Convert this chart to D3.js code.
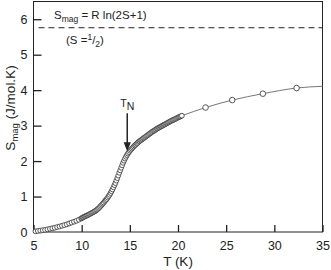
<!DOCTYPE html>
<html><head><meta charset="utf-8">
<script src="https://cdn.jsdelivr.net/npm/d3@7"></script>
<style>body{margin:0;background:#fff}svg{display:block}text{font-family:"Liberation Sans",Arial,sans-serif;fill:#222}</style>
</head><body>
<svg id="c" width="331" height="270"></svg>
<script>
// Dense measured points (open circles)
const denseT = [5.2,5.45,5.7,5.95,6.2,6.45,6.7,6.95,7.2,7.45,7.7,7.95,8.2,8.45,8.7,8.95,9.2,9.45,9.7,9.95,
  10.0,10.1,10.2,10.3,10.4,10.5,10.6,10.7,10.8,10.9,11.0,11.1,11.2,11.3,11.4,11.5,11.6,11.7,11.8,11.9,
  12.0,12.1,12.2,12.3,12.4,12.5,12.6,12.7,12.8,12.9,13.0,13.1,13.2,13.3,13.4,13.5,13.6,13.7,13.8,13.9,
  14.0,14.1,14.2,14.3,14.4,14.5,14.6,14.7,14.8,14.9,15.0,15.1,15.2,15.3,15.4,15.5,15.6,15.7,15.8,15.9,16.0,
  16.1,16.2,16.3,16.4,16.5,16.6,16.7,16.8,16.9,17.0,17.1,17.2,17.3,17.4,17.5,17.6,17.7,17.8,17.9,18.0,
  18.1,18.2,18.3,18.4,18.5,18.6,18.7,18.8,18.9,19.0,19.1,19.2,19.3,19.4,19.5,19.6,19.7,19.8,19.9,20.0,
  20.1,20.2,20.3,20.4];
const denseS = [0.02,0.03,0.04,0.05,0.06,0.075,0.09,0.105,0.12,0.14,0.155,0.175,0.195,0.215,0.24,0.265,0.29,0.315,0.345,0.38,
  0.39,0.405,0.42,0.435,0.45,0.46,0.47,0.485,0.50,0.515,0.53,0.545,0.56,0.575,0.59,0.61,0.63,0.655,0.68,0.71,
  0.74,0.77,0.80,0.83,0.87,0.90,0.93,0.97,1.01,1.05,1.10,1.15,1.20,1.26,1.32,1.38,1.45,1.52,1.59,1.67,
  1.74,1.81,1.88,1.95,2.01,2.07,2.12,2.17,2.21,2.25,2.29,2.32,2.35,2.38,2.41,2.44,2.46,2.49,2.51,2.54,2.56,
  2.58,2.60,2.62,2.64,2.66,2.68,2.70,2.72,2.74,2.76,2.78,2.80,2.82,2.84,2.855,2.87,2.89,2.91,2.925,2.94,
  2.955,2.97,2.985,3.00,3.015,3.03,3.045,3.06,3.075,3.09,3.105,3.12,3.135,3.15,3.16,3.17,3.185,3.20,3.215,3.23,
  3.24,3.25,3.265,3.28];
// Sparse points (open circles)
const sparseT = [22.86,25.63,28.81,32.31];
const sparseS = [3.51,3.72,3.90,4.06];
// Fit line
const lineT = [20.4,22.86,25.63,28.81,32.31,35];
const lineS = [3.28,3.51,3.72,3.90,4.06,4.11];
// Axes
const xTicks = [5,10,15,20,25,30,35];
const yTicks = [0,1,2,3,4,5,6];
// Annotations (data units)
const saturationS = 5.76;
const tnT = 14.73, tnTopS = 3.35, tnTipS = 2.28;

const svg = d3.select("#c");
const L=33.5, R=322.5, T=1.5, B=232;
const x = d3.scaleLinear().domain([5,35]).range([L,R]);
const y = d3.scaleLinear().domain([0,6.5]).range([B,T]);
const ink = "#222";

// frame
svg.append("rect").attr("x",L).attr("y",T).attr("width",R-L).attr("height",B-T)
  .attr("fill","none").attr("stroke",ink).attr("stroke-width",1);

// x axis ticks (inward)
const xa = d3.axisBottom(x).tickValues(xTicks).tickSize(-7).tickPadding(11).tickFormat(d3.format("d"));
const gx = svg.append("g").attr("transform",`translate(0,${B})`).call(xa);
gx.select(".domain").remove();
gx.selectAll("line").attr("stroke",ink).attr("stroke-width",1.3);
gx.selectAll("text").attr("font-size","12.5px").attr("fill",ink).attr("dy","0.71em").attr("y",9);

const ya = d3.axisLeft(y).tickValues(yTicks).tickSize(-8).tickPadding(13).tickFormat(d3.format("d"));
const gy = svg.append("g").attr("transform",`translate(${L},0)`).call(ya);
gy.select(".domain").remove();
gy.selectAll("line").attr("stroke",ink).attr("stroke-width",1.3);
gy.selectAll("text").attr("font-size","12.5px").attr("fill",ink).attr("x",-6);

// axis titles
svg.append("text").attr("x",(L+R)/2).attr("y",266).attr("text-anchor","middle").attr("font-size","13.5px").text("T (K)");
const yl = svg.append("text").attr("transform","translate(15,108) rotate(-90)").attr("text-anchor","middle").attr("font-size","13.5px");
yl.append("tspan").text("S");
yl.append("tspan").attr("font-size","9.5px").attr("dy","3").text("mag");
yl.append("tspan").attr("dy","-3").text(" (J/mol.K)");

// saturation line
svg.append("line").attr("x1",L+5).attr("x2",R).attr("y1",y(saturationS)).attr("y2",y(saturationS))
  .attr("stroke",ink).attr("stroke-width",1).attr("stroke-dasharray","6,4");
const t1 = svg.append("text").attr("x",54).attr("y",19).attr("font-size","11.5px");
t1.append("tspan").text("S");
t1.append("tspan").attr("font-size","8.5px").attr("dy","3").text("mag");
t1.append("tspan").attr("dy","-3").text(" = R ln(2S+1)");
const t2 = svg.append("text").attr("x",66).attr("y",44).attr("font-size","11.5px");
t2.append("tspan").text("(S =");
t2.append("tspan").attr("font-size","8.5px").attr("dy","-4").text("1");
t2.append("tspan").attr("dy","4").text("/");
t2.append("tspan").attr("font-size","8.5px").attr("dy","3").text("2");
t2.append("tspan").attr("dy","-3").text(")");

// fit line
const lineData = lineT.map((t,i)=>[t,lineS[i]]);
svg.append("path").datum(lineData).attr("fill","none").attr("stroke","#777").attr("stroke-width",1)
  .attr("d",d3.line().x(d=>x(d[0])).y(d=>y(d[1])).curve(d3.curveMonotoneX));

// circles
const dense = denseT.map((t,i)=>[t,denseS[i]]);
svg.append("g").selectAll("circle").data(dense).join("circle")
  .attr("cx",d=>x(d[0])).attr("cy",d=>y(d[1])).attr("r",2.4)
  .attr("fill","#fff").attr("stroke","#333").attr("stroke-width",0.8);
const sparse = sparseT.map((t,i)=>[t,sparseS[i]]);
svg.append("g").selectAll("circle").data(sparse).join("circle")
  .attr("cx",d=>x(d[0])).attr("cy",d=>y(d[1])).attr("r",2.8)
  .attr("fill","#fff").attr("stroke","#444").attr("stroke-width",0.9);

// T_N arrow
const ax = x(tnT);
svg.append("line").attr("x1",ax).attr("x2",ax).attr("y1",y(tnTopS)).attr("y2",y(tnTipS)-6)
  .attr("stroke",ink).attr("stroke-width",1.5);
svg.append("path").attr("d",`M${ax-3.6},${y(tnTipS)-9}L${ax+3.6},${y(tnTipS)-9}L${ax},${y(tnTipS)}Z`).attr("fill",ink);
const tn = svg.append("text").attr("x",ax).attr("y",107).attr("text-anchor","middle").attr("font-size","10.5px");
tn.append("tspan").text("T");
tn.append("tspan").attr("dy","3").text("N");
</script>
</body></html>
